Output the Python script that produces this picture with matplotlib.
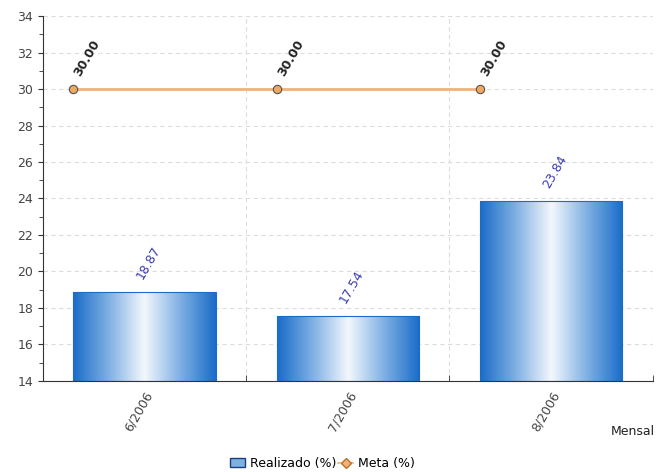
import numpy as np
import matplotlib.pyplot as plt
from matplotlib.colors import LinearSegmentedColormap
from matplotlib.patches import Rectangle
from matplotlib.ticker import MultipleLocator

meses = ['6/2006', '7/2006', '8/2006']
realizado = [18.87, 17.54, 23.84]
meta = [30.00, 30.00, 30.00]

fig = plt.figure(figsize=(6.58, 4.72), dpi=100)
ax = fig.add_axes([0.065, 0.193, 0.927, 0.773])

x = np.arange(len(meses))
largura = 0.7
base = 14

# gradiente das barras (escuro nas bordas, branco no meio)
cmap = LinearSegmentedColormap.from_list('barra', ['#1a6cc8', '#7fb0e3', '#f4f8fd', '#7fb0e3', '#1a6cc8'])
grad = np.linspace(0, 1, 256).reshape(1, -1)
for xi, v in zip(x, realizado):
    x0 = xi - largura / 2
    im = ax.imshow(grad, cmap=cmap, aspect='auto', extent=[x0, x0 + largura, base, v], zorder=2)
    r = Rectangle((x0, base), largura, v - base, facecolor='none', edgecolor='#1a6cc8', lw=0.8, zorder=3)
    ax.add_patch(r)
    im.set_clip_path(r)
    ax.text(xi + 0.02, v + 0.6, f'{v:.2f}', rotation=60, color='#3a3ab0',
            fontsize=9, ha='center', va='bottom')

# linha da meta
xm = x - largura / 2
ax.plot(xm, meta, color='#f0b27a', lw=2, marker='o', markersize=6,
        markerfacecolor='#f0a860', markeredgecolor='#555555', markeredgewidth=0.8, zorder=4)
for xi, v in zip(xm, meta):
    ax.text(xi + 0.07, v + 0.6, f'{v:.2f}', rotation=60, color='#222222',
            fontsize=9, fontweight='bold', ha='center', va='bottom')

ax.set_xlim(-0.5, 2.5)
ax.set_ylim(14, 34)
ax.yaxis.set_major_locator(MultipleLocator(2))
ax.yaxis.set_minor_locator(MultipleLocator(1))
ax.set_xticks(x)
ax.set_xticklabels(meses, rotation=60, ha='right', rotation_mode='anchor', color='#444444', fontsize=9)
ax.set_xticks([0.5, 1.5, 2.5], minor=True)
ax.tick_params(axis='x', which='major', length=0, pad=6)
ax.tick_params(axis='x', which='minor', length=4, direction='in', color='#333333')
ax.tick_params(axis='y', which='both', direction='out', color='#333333', labelsize=9, labelcolor='#444444')
ax.tick_params(axis='y', which='minor', length=3)

ax.grid(axis='y', which='major', linestyle=(0, (4, 3)), color='#dddddd', lw=0.8, zorder=0)
for g in [0.5, 1.5, 2.5]:
    ax.axvline(g, linestyle=(0, (4, 3)), color='#dddddd', lw=0.8, zorder=0)

for s in ['top', 'right']:
    ax.spines[s].set_visible(False)
ax.spines['left'].set_color('#333333')
ax.spines['bottom'].set_color('#333333')

fig.text(0.995, 0.085, 'Mensal', ha='right', va='center', fontsize=9, color='#222222')

h1 = Rectangle((0, 0), 1, 1, facecolor='#7fb0e3', edgecolor='#1a3f7a', lw=1)
h2, = ax.plot([], [], color='#f0b27a', lw=1.2, marker='D', markersize=5,
              markerfacecolor='#f0b27a', markeredgecolor='#c07020')
fig.legend([h1, h2], ['Realizado (%)', 'Meta (%)'], loc='center', bbox_to_anchor=(0.49, 0.018),
           ncol=2, frameon=False, fontsize=9, handlelength=1.2, handletextpad=0.4, columnspacing=0.2)

fig.savefig('out.png', dpi=100)
